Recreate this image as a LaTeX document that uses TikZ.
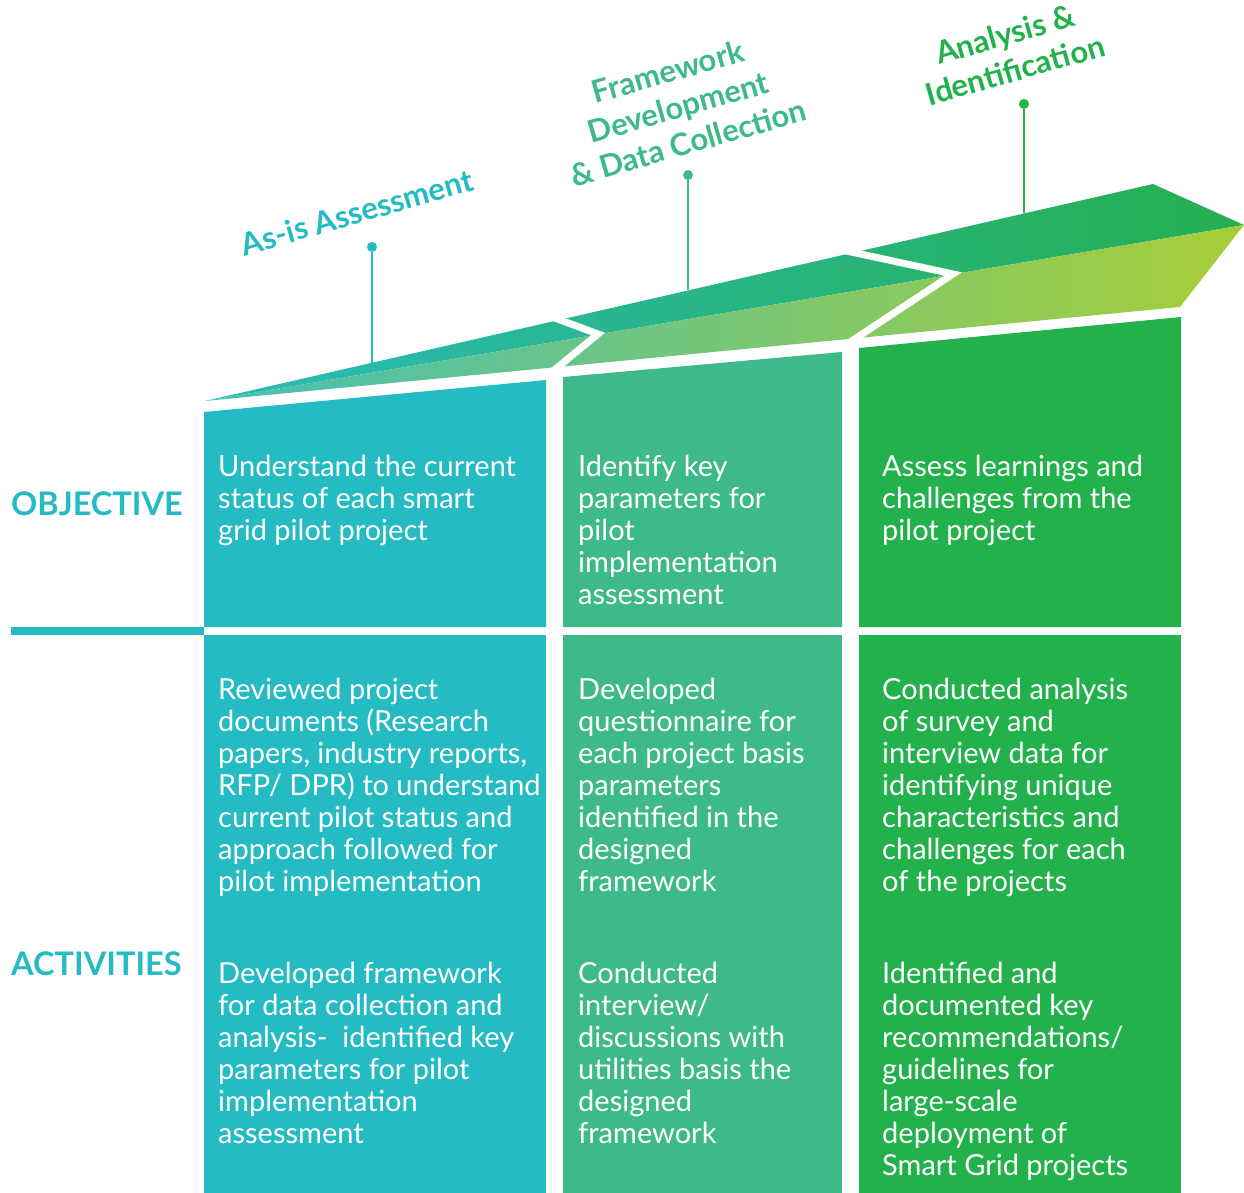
\documentclass[tikz,border=0pt]{standalone}
\usepackage{fontspec}
\setmainfont{Lato}

\definecolor{asisteal}{HTML}{25BBC3}
\definecolor{frameteal}{HTML}{3EBA8A}
\definecolor{analgreen}{HTML}{23B14C}
\definecolor{roofleft}{HTML}{2ABBBA}
\definecolor{roofmid}{HTML}{3AB98C}
\definecolor{roofright}{HTML}{26AF50}
\definecolor{lightleft}{HTML}{48BFB4}
\definecolor{lightright}{HTML}{A7CE39}

\newcommand{\boxtext}[1]{\parbox[t]{400pt}{\raggedright #1}}

\begin{document}
\begin{tikzpicture}[
    x=1pt, y=-1pt,
    lbl/.style={
        font=\fontsize{31}{37}\selectfont\bfseries,
        rotate=16,
        align=center,
        inner sep=0pt},
    body/.style={
        anchor=base west,
        inner sep=0pt,
        text=white,
        font=\fontsize{29}{32}\selectfont},
    sidelbl/.style={
        anchor=base west,
        inner sep=0pt,
        text=asisteal,
        font=\fontsize{32.5}{32}\selectfont\bfseries},
    pindot/.style={circle, fill, inner sep=0pt, minimum size=10pt},
    cutline/.style={white, line width=7pt}]
    \useasboundingbox (0,0) rectangle (1244,1193);

    \coordinate (tip) at (205,401);
    \coordinate (ridge) at (1153,184);
    \coordinate (nose) at (1244,225);
    \coordinate (heel) at (1180,307);

    \shade[left color=roofleft, middle color=roofmid, right color=roofright] (tip) -- (ridge) -- (nose) -- cycle;
    \shade[left color=lightleft, right color=lightright] (tip) -- (nose) -- (heel) -- cycle;

    \draw[cutline] (552,317) -- (598,334) -- (553,371);
    \draw[cutline] (842,250) -- (953,274) -- (850,342);

    \fill[asisteal] (204,412) -- (546,380) -- (546,627) -- (204,627) -- cycle;
    \fill[asisteal] (204,635) rectangle (546,1193);
    \fill[frameteal] (563,377) -- (842,352) -- (842,627) -- (563,627) -- cycle;
    \fill[frameteal] (563,635) rectangle (842,1193);
    \fill[analgreen] (859,348) -- (1181,317) -- (1181,627) -- (859,627) -- cycle;
    \fill[analgreen] (859,635) rectangle (1181,1193);
    \fill[asisteal] (11,627) rectangle (204,635);

    \node[pindot, asisteal] (pin1) at (372,247) {};
    \node[pindot, frameteal] (pin2) at (688,175) {};
    \node[pindot, analgreen] (pin3) at (1024,104) {};
    \coordinate (top1) at (372,363);
    \coordinate (top2) at (688,290);
    \coordinate (top3) at (1024,213);
    \draw[asisteal, line width=2pt] (pin1) -- (top1);
    \draw[frameteal, line width=2pt] (pin2) -- (top2);
    \draw[analgreen, line width=2pt] (pin3) -- (top3);

    \node[lbl, text=asisteal, anchor=base] (asis) at (360,223) {As-is Assessment};
    \node[lbl, text=frameteal] (frame) at (678,107) {Framework\\Development\\\& Data Collection};
    \node[lbl, text=analgreen] (anal) at (1010,52) {Analysis \&\\Identification};

    \node[sidelbl] (objective) at (11,515) {OBJECTIVE};
    \node[sidelbl] (activities) at (11,975) {ACTIVITIES};

    \node[body] (obj1) at (218,476) {\boxtext{Understand the current\\status of each smart\\grid pilot project}};
    \node[body] (obj2) at (578,476) {\boxtext{Identify key\\parameters for\\pilot\\implementation\\assessment}};
    \node[body] (obj3) at (882,476) {\boxtext{Assess learnings and\\challenges from the\\pilot project}};

    \node[body] (act1a) at (218,699) {\boxtext{Reviewed project\\documents (Research\\papers, industry reports,\\RFP/ DPR) to understand\\current pilot status and\\approach followed for\\pilot implementation}};
    \node[body] (act2a) at (578,699) {\boxtext{Developed\\questionnaire for\\each project basis\\parameters\\identified in the\\designed\\framework}};
    \node[body] (act3a) at (882,699) {\boxtext{Conducted analysis\\of survey and\\interview data for\\identifying unique\\characteristics and\\challenges for each\\of the projects}};

    \node[body] (act1b) at (218,983) {\boxtext{Developed framework\\for data collection and\\analysis-\ \ identified key\\parameters for pilot\\implementation\\assessment}};
    \node[body] (act2b) at (578,983) {\boxtext{Conducted\\interview/\\discussions with\\utilities basis the\\designed\\framework}};
    \node[body] (act3b) at (882,983) {\boxtext{Identified and\\documented key\\recommendations/\\guidelines for\\large-scale\\deployment of\\Smart Grid projects}};
\end{tikzpicture}
\end{document}
